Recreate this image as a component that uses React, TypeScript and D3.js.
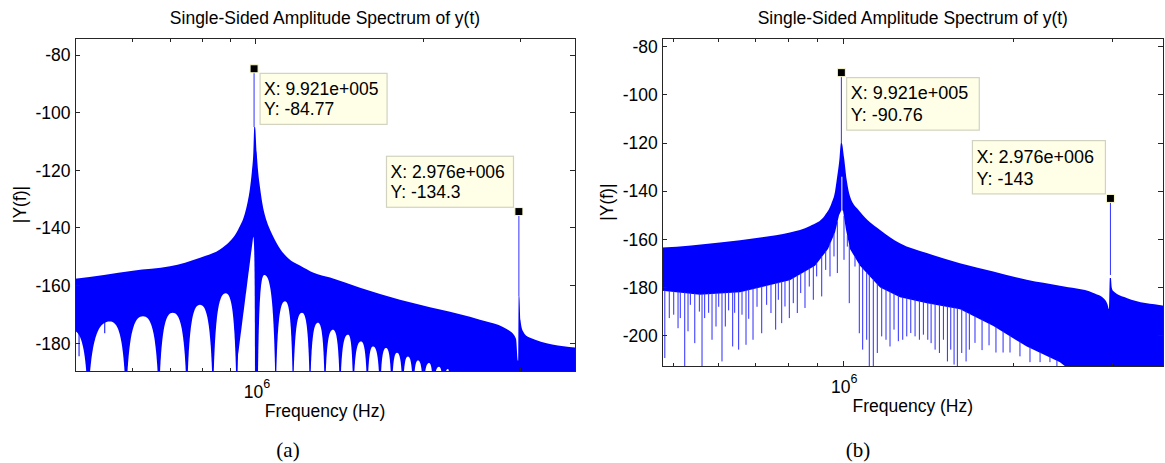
import React from "react";
import * as d3 from "d3";

const W = 1165;
const H = 463;
const BLUE = "#0000ff";
const AXIS = "#262626";
const SANS = "'Liberation Sans', Arial, Helvetica, sans-serif";
const SERIF = "'Liberation Serif', 'Times New Roman', serif";

// ── Panel (a) ── frequencies in MHz, levels in dB
const envFreqA = [0.46, 0.472, 0.6, 0.7, 0.793, 0.861, 0.879, 0.929, 0.955, 0.966, 0.975, 0.983, 0.989, 0.993, 0.996,
  1.003, 1.009, 1.017, 1.028, 1.045, 1.065, 1.099, 1.143, 1.2, 1.27, 1.36, 1.54, 1.817, 2.146, 2.532, 2.87, 2.941, 2.963,
  2.97, 2.973, 2.981, 2.996, 3.027, 3.11, 3.76, 3.85];
const envDbA = [-157.8, -157.6, -154.8, -153.3, -150.3, -147.5, -146.2, -140.5, -135, -131, -126.5, -120.5, -114, -105, -105,
  -113.8, -120.5, -126, -132, -137.5, -141.5, -146.5, -150.5, -153, -155.5, -157.2, -160.7, -164.9, -168.3, -171.8, -175.8,
  -178.5, -186, -186, -163.7, -163.7, -172, -175.8, -178, -181.5, -181.7];

// side lobes of (a): null .. apex .. null, and apex level
const lobeLoA = [0.4436, 0.4982, 0.5833, 0.6686, 0.7509, 0.8366, 0.923, 1.0071, 1.0851, 1.166, 1.251, 1.331,
  1.417, 1.497, 1.587, 1.673, 1.756, 1.838, 1.92, 2.002, 2.087, 2.175];
const lobeMidA = [0.466, 0.5457, 0.6258, 0.7078, 0.7926, 0.882, 0.9905, 1.035, 1.128, 1.21, 1.293, 1.376,
  1.465, 1.546, 1.625, 1.715, 1.795, 1.878, 1.958, 2.05, 2.136, 2.218];
const lobeHiA = [0.4982, 0.5833, 0.6686, 0.7509, 0.8366, 0.923, 0.996, 1.0851, 1.166, 1.251, 1.331, 1.417,
  1.497, 1.587, 1.673, 1.756, 1.838, 1.92, 2.002, 2.087, 2.175, 2.236];
const lobeTopA = [-175.5, -172.4, -170.6, -169.4, -166.6, -162.6, -143, -156.3, -165.4, -169.4, -172.9, -175.3,
  -177, -179.4, -181.1, -181.6, -183.3, -184.6, -186, -186.8, -188.1, -188.9];

const streakFreqA = [0.48, 0.534];
const streakTopA = [-175, -172];
const streakLoA = [-184.5, -176.5];

const peakFreqA = [0.9921, 2.976];
const peakDbA = [-84.77, -134.3];
const peakBaseA = [-105, -163.7];
const tipXA = ["9.921e+005", "2.976e+006"];
const tipYA = ["-84.77", "-134.3"];

const yTicksA = [-80, -100, -120, -140, -160, -180];
const minorA = [0.6, 0.7, 0.8, 0.9, 2, 3];

// ── Panel (b) ──
const envFreqB = [0.46, 0.4776, 0.604, 0.712, 0.804, 0.873, 0.928, 0.953, 0.967, 0.9734, 0.984, 0.9905, 0.9935,
  1.003, 1.014, 1.028, 1.0705, 1.162, 1.26, 1.406, 1.61, 1.845, 2.115, 2.422, 2.776, 2.911, 2.94, 2.959, 2.969,
  2.981, 2.992, 3.011, 3.18, 3.704, 3.8];
const envDbB = [-163.5, -163.4, -161.3, -159.2, -157.2, -154.5, -150, -145, -140, -135.4, -127, -120, -120,
  -126, -135.4, -142.2, -148.5, -156.1, -161.6, -165.7, -169.9, -173.4, -176.8, -179.3, -182.3, -185.1, -187, -189,
  -176, -176, -180, -181.5, -184.4, -187.6, -188];

// lower edge of the dense part of (b)
const floorFreqB = [0.46, 0.557, 0.656, 0.712, 0.804, 0.891, 0.9394, 0.967, 0.9826, 0.9915, 0.9988, 1.011, 1.0277,
  1.0705, 1.162, 1.26, 1.406, 1.61, 1.845, 2.115, 2.422, 2.575, 3.8];
const floorDbB = [-181, -183, -182, -180, -177, -171, -164, -157, -150, -148, -148, -156, -164, -171, -180, -184,
  -186.5, -189, -196, -204.5, -211, -216, -216];

// single bins hanging below the dense part of (b)
const spurFreqB = [0.4825, 0.4914, 0.5004, 0.5093, 0.514, 0.5234, 0.5305, 0.5356, 0.5453, 0.5556, 0.5617, 0.5678,
  0.5771, 0.5851, 0.5947, 0.6013, 0.6094, 0.6177, 0.6262, 0.6366, 0.6418, 0.6523, 0.6613, 0.6722, 0.6797, 0.6917,
  0.7031, 0.7167, 0.7313, 0.7443, 0.7587, 0.767, 0.7776, 0.7881, 0.8022, 0.8153, 0.8288, 0.8404, 0.8552, 0.8703,
  0.8848, 0.897, 0.9156, 0.9307, 0.9471, 0.9627, 0.9759, 1.0029, 1.0165, 1.0247, 1.0489, 1.0675, 1.0823, 1.1002,
  1.1119, 1.1303, 1.1489, 1.1698, 1.1905, 1.2101, 1.2301, 1.2519, 1.2746, 1.2957, 1.3171, 1.3404, 1.3643, 1.3867,
  1.4118, 1.4311, 1.4547, 1.4805, 1.5049, 1.5297, 1.5507, 1.5718, 1.593, 1.6218, 1.6508, 1.673, 1.712, 1.762,
  1.813, 1.865, 1.92, 1.975, 2.057, 2.143, 2.233, 2.325, 2.392];
const spurDbB = [-209.3, -192.7, -191.3, -196.9, -192.7, -213, -198.2, -187.2, -203.1, -190, -213, -192.7,
  -190.5, -201.7, -196.2, -188, -210.7, -196.2, -189.5, -204.5, -190.5, -205.8, -191.3, -203.8, -193, -201.7,
  -188, -199, -187.2, -190.6, -197.5, -185.1, -194.8, -187.9, -192.7, -186.5, -190.6, -182.3, -188.5, -179.6,
  -185.1, -175.4, -183.7, -172.7, -175.4, -167.1, -174, -168.5, -163, -186.5, -171.3, -199, -205.8, -201.7,
  -215, -215, -207.2, -200.3, -201.7, -204.5, -197.5, -202.3, -201.7, -200.3, -198.9, -200.3, -201.7, -199.6,
  -201.7, -203.1, -205.8, -207.2, -201.7, -210.7, -205.8, -212, -215, -207.2, -210.7, -205.8, -203, -206,
  -204, -207, -207, -207, -208.6, -211, -211, -211, -213];

const notchFreqB = 0.9921;
const notchTopB = -134;

const peakFreqB = [0.9921, 2.976];
const peakDbB = [-90.76, -143];
const peakBaseB = [-120, -174.8];
const tipXB = ["9.921e+005", "2.976e+006"];
const tipYB = ["-90.76", "-143"];

const yTicksB = [-80, -100, -120, -140, -160, -180, -200];
const minorB = [0.5, 0.6, 0.7, 0.8, 0.9, 2, 3];

type Frame = { left: number; top: number; right: number; bottom: number };
type Tip = { side: "right" | "left"; w: number; h: number; dx: number; dy: number; fs: number; l1: number; l2: number };

// white gap under one side lobe; a lopsided lobe gets a straight long flank
function lobePath(x1: number, xm: number, x2: number, yT: number, yB: number) {
  const wl = xm - x1;
  const wr = x2 - xm;
  const p = d3.path();
  p.moveTo(x1, yB);
  if (wl > 4 * wr) {
    p.lineTo(x1 + 0.08 * wl, yB - (yB - yT) * 0.3);
    p.lineTo(xm - 0.5, yT);
  } else {
    p.bezierCurveTo(x1 + 0.12 * wl, yT + (yB - yT) * 0.18, x1 + 0.45 * wl, yT, xm, yT);
  }
  p.bezierCurveTo(xm + 0.55 * wr, yT, x2 - 0.12 * wr, yT + (yB - yT) * 0.18, x2, yB);
  p.closePath();
  return p.toString();
}

function Panel(props: any) {
  const { id, frame, xDomain, yDomain, yTicks, minor, caption, captionX, tips } = props as {
    id: string; frame: Frame; xDomain: [number, number]; yDomain: [number, number];
    yTicks: number[]; minor: number[]; caption: string; captionX: number; tips: Tip[];
  };
  const { left, top, right, bottom } = frame;
  const x = d3.scaleLog().domain(xDomain).range([left, right]);
  const y = d3.scaleLinear().domain(yDomain).range([bottom, top]);
  const cx = (left + right) / 2;
  const cy = (top + bottom) / 2;
  const clip = `clip-${id}`;
  const deep = yDomain[0] - 12;

  const envF = id === "a" ? envFreqA : envFreqB;
  const envD = id === "a" ? envDbA : envDbB;
  const upper = d3.line<number>()
    .x(i => x(envF[i]))
    .y(i => y(envD[i]))
    .curve(d3.curveMonotoneX)(d3.range(envF.length)) || "";

  let body: React.ReactNode = null;
  if (id === "a") {
    const close = `L${x(envF[envF.length - 1])},${y(deep)}L${x(envF[0])},${y(deep)}Z`;
    body = (
      <g>
        <path d={upper + close} fill={BLUE} />
        {lobeLoA.map((lo, i) => (
          <path key={i} d={lobePath(x(lo), x(lobeMidA[i]), x(lobeHiA[i]), y(lobeTopA[i]), y(deep))} fill="#fff" />
        ))}
        {streakFreqA.map((f, i) => (
          <line key={i} x1={x(f)} x2={x(f)} y1={y(streakTopA[i])} y2={y(streakLoA[i])} stroke={BLUE} strokeWidth={1} />
        ))}
      </g>
    );
  } else {
    const lowerPts = floorFreqB.map((f, i) => `${x(f)},${y(floorDbB[i])}`).reverse();
    const floorAt = d3.scaleLinear().domain(floorFreqB.map(Math.log10)).range(floorDbB);
    body = (
      <g>
        <path d={upper + "L" + lowerPts.join("L") + "Z"} fill={BLUE} />
        {spurFreqB.map((f, i) => (
          <line key={i} x1={x(f)} x2={x(f)} y1={y(floorAt(Math.log10(f))) - 1} y2={y(spurDbB[i])}
            stroke="#2b2bff" strokeWidth={1} />
        ))}
        <line x1={x(notchFreqB) + 0.5} x2={x(notchFreqB) + 0.5} y1={y(notchTopB)} y2={bottom}
          stroke="#fff" strokeWidth={1} />
      </g>
    );
  }

  const peakF = id === "a" ? peakFreqA : peakFreqB;
  const peakDb = id === "a" ? peakDbA : peakDbB;
  const peakBase = id === "a" ? peakBaseA : peakBaseB;
  const tipX = id === "a" ? tipXA : tipXB;
  const tipY = id === "a" ? tipYA : tipYB;

  return (
    <g>
      <defs>
        <clipPath id={clip}>
          <rect x={left} y={top} width={right - left} height={bottom - top} />
        </clipPath>
      </defs>
      <g clipPath={`url(#${clip})`}>
        {body}
        {peakF.map((f, i) => (
          <line key={i} x1={x(f)} x2={x(f)} y1={y(peakDb[i])} y2={y(peakBase[i])} stroke="#3030ff" strokeWidth={1} />
        ))}
      </g>

      {/* axes box and ticks */}
      <rect x={left} y={top} width={right - left} height={bottom - top} fill="none" stroke={AXIS}
        strokeWidth={1} shapeRendering="crispEdges" />
      <g stroke={AXIS} strokeWidth={1} shapeRendering="crispEdges">
        {yTicks.map(t => (
          <g key={t}>
            <line x1={left} x2={left + 5} y1={y(t)} y2={y(t)} />
            <line x1={right - 5} x2={right} y1={y(t)} y2={y(t)} />
          </g>
        ))}
        {[1, ...minor].map(t => {
          const len = t === 1 ? 5.5 : 3.5;
          return (
            <g key={t}>
              <line x1={x(t)} x2={x(t)} y1={bottom} y2={bottom - len} />
              <line x1={x(t)} x2={x(t)} y1={top} y2={top + len} />
            </g>
          );
        })}
      </g>
      <g fontFamily={SANS} fontSize={17.5} fill="#000">
        {yTicks.map(t => (
          <text key={t} x={left - 4.5} y={y(t)} dy="0.36em" textAnchor="end">{t}</text>
        ))}
        <text x={x(1) + 1} y={bottom + 26.5} textAnchor="middle">
          10<tspan dy={-10} fontSize={12.5}>6</tspan>
        </text>
        <text x={cx} y={bottom + 46} textAnchor="middle">Frequency (Hz)</text>
        <text transform={`translate(${left - 49},${cy}) rotate(-90)`} textAnchor="middle">|Y(f)|</text>
        <text x={cx} y={24} textAnchor="middle">Single-Sided Amplitude Spectrum of y(t)</text>
      </g>

      {/* data tips */}
      {peakF.map((f, i) => {
        const t = tips[i];
        const mx = x(f);
        const my = y(peakDb[i]);
        const bx = t.side === "right" ? mx + t.dx : mx - t.dx - t.w;
        const by = t.side === "right" ? my + t.dy : my - t.dy - t.h;
        return (
          <g key={i}>
            <rect x={bx} y={by} width={t.w} height={t.h} fill="#ffffe8" stroke="#d2d2c0" strokeWidth={1.2} />
            <text x={bx + 4} y={by + t.l1} fontFamily={SANS} fontSize={t.fs}>{`X: ${tipX[i]}`}</text>
            <text x={bx + 4} y={by + t.l2} fontFamily={SANS} fontSize={t.fs}>{`Y: ${tipY[i]}`}</text>
            <rect x={mx - 4} y={my - 4} width={8} height={8} fill="#000" stroke="#fbfbd0" strokeWidth={1} />
          </g>
        );
      })}

      <text x={captionX} y={457} textAnchor="middle" fontFamily={SERIF} fontSize={21}>{caption}</text>
    </g>
  );
}

export default function App() {
  const tipsA: Tip[] = [
    { side: "right", w: 127, h: 51, dx: 6, dy: 4.6, fs: 17.5, l1: 21.7, l2: 41.7 },
    { side: "left", w: 127, h: 51, dx: 5.4, dy: 4.3, fs: 17.5, l1: 21.7, l2: 41.7 },
  ];
  const tipsB: Tip[] = [
    { side: "right", w: 132.6, h: 52.5, dx: 5.3, dy: 5, fs: 18, l1: 21.8, l2: 43 },
    { side: "left", w: 133, h: 53.3, dx: 5, dy: 4.5, fs: 18, l1: 22.5, l2: 44 },
  ];
  return (
    <svg width={W} height={H} viewBox={`0 0 ${W} ${H}`}
      style={{ position: "absolute", left: 0, top: 0, background: "#fff" }}>
      <rect width={W} height={H} fill="#fff" />
      <Panel id="a" frame={{ left: 75, top: 38, right: 575, bottom: 371 }}
        xDomain={[0.472, 3.756]} yDomain={[-189.6, -74.1]} yTicks={yTicksA} minor={minorA}
        caption="(a)" captionX={288} tips={tipsA} />
      <Panel id="b" frame={{ left: 662.3, top: 38.3, right: 1163.3, bottom: 366 }}
        xDomain={[0.4776, 3.693]} yDomain={[-212.6, -76.5]} yTicks={yTicksB} minor={minorB}
        caption="(b)" captionX={858} tips={tipsB} />
    </svg>
  );
}
